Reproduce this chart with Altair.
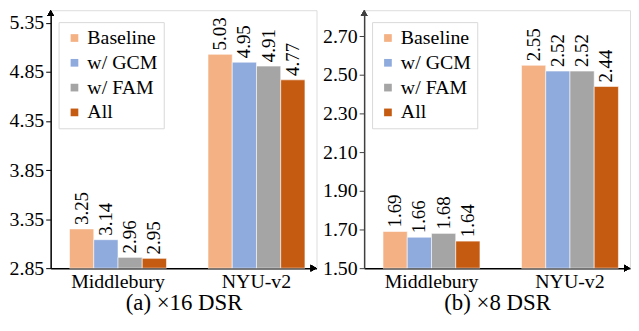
import altair as alt
import pandas as pd

methods = ["Baseline", "w/ GCM", "w/ FAM", "All"]
colors = ["#F4B183", "#8FAADC", "#A5A5A5", "#C55A11"]
datasets = ["Middlebury", "NYU-v2"]

mid_x16 = [3.25, 3.14, 2.96, 2.95]
nyu_x16 = [5.03, 4.95, 4.91, 4.77]
mid_x8 = [1.69, 1.66, 1.68, 1.64]
nyu_x8 = [2.55, 2.52, 2.52, 2.44]

ticks_x16 = [2.85, 3.35, 3.85, 4.35, 4.85, 5.35]
ticks_x8 = [1.50, 1.70, 1.90, 2.10, 2.30, 2.50, 2.70]
FONT = "Liberation Serif"
W, H = 268, 260


def make_df(mid, nyu):
    rows = []
    for ds, vals in zip(datasets, [mid, nyu]):
        for m, v in zip(methods, vals):
            rows.append({"dataset": ds, "method": m, "value": v})
    return pd.DataFrame(rows)


def panel(df, ticks, ymin, ymax, title, axis_color):
    color = alt.Color(
        "method:N",
        scale=alt.Scale(domain=methods, range=colors),
        legend=alt.Legend(
            title=None, orient="none", legendX=8, legendY=12, padding=6,
            strokeColor="#d9d9d9", fillColor="white", symbolType="square",
            symbolSize=60, symbolStrokeWidth=0, labelFontSize=20, labelFont=FONT,
            rowPadding=5, labelOffset=3, labelColor="black",
            labelExpr="datum.label + '" + "\u00a0" * 19 + "'",
        ),
    )
    x = alt.X(
        "dataset:N", sort=datasets,
        scale=alt.Scale(paddingInner=0.3, paddingOuter=0.11, align=0.62),
        axis=alt.Axis(title=title, labelAngle=0, ticks=False, labelFontSize=20,
                      labelFont=FONT, titleFont=FONT, titleFontSize=23,
                      titleFontWeight="normal", titlePadding=0, labelPadding=4,
                      domainColor="black", domainWidth=1.5, labelColor="black",
                      titleColor="black"),
    )
    y = alt.Y(
        "value:Q",
        scale=alt.Scale(domain=[ymin, ymax], zero=False, nice=False),
        axis=alt.Axis(title=None, values=ticks, format=".2f", grid=False,
                      labelFontSize=20, labelFont=FONT, tickSize=5, tickColor=axis_color,
                      domainColor=axis_color, domainWidth=1.5, labelColor="black",
                      labelPadding=2),
    )
    xo = alt.XOffset("method:N", sort=methods,
                     scale=alt.Scale(paddingInner=0, paddingOuter=0))
    bars = alt.Chart(df).mark_bar(stroke="white", strokeWidth=0.8, strokeOpacity=0.7).encode(
        x=x, xOffset=xo, y=y, y2=alt.datum(ymin), color=color
    )
    labels = alt.Chart(df).mark_text(
        angle=270, align="left", baseline="middle", dx=4, fontSize=19, font=FONT,
        color="black"
    ).encode(x=x, xOffset=xo, y=y, text=alt.Text("value:Q", format=".2f"))
    up = alt.Chart(df).mark_point(shape="triangle-up", filled=True, color=axis_color,
                                  size=45, opacity=1).encode(
        x=alt.value(0), y=alt.value(3))
    right = alt.Chart(df).mark_point(shape="triangle-up", angle=90, filled=True,
                                     color="black", size=45, opacity=1).encode(
        x=alt.value(W - 3), y=alt.value(H))
    return alt.layer(bars, labels, up, right).properties(width=W, height=H)


left = panel(make_df(mid_x16, nyu_x16), ticks_x16, 2.85, 5.48, "(a) ×16 DSR", "black")
rightp = panel(make_df(mid_x8, nyu_x8), ticks_x8, 1.50, 2.835, "(b) ×8 DSR", "#404040")

chart = alt.hconcat(left, rightp, spacing=4).resolve_legend(color="independent").resolve_scale(
    y="independent", color="independent"
).configure_view(stroke=None).configure(font=FONT).configure_axis(
    labelFont=FONT, titleFont=FONT
).configure_legend(labelFont=FONT).configure_text(font=FONT).properties(padding=0)

chart.save("out.html", embed_options={"renderer": "svg", "actions": False})
